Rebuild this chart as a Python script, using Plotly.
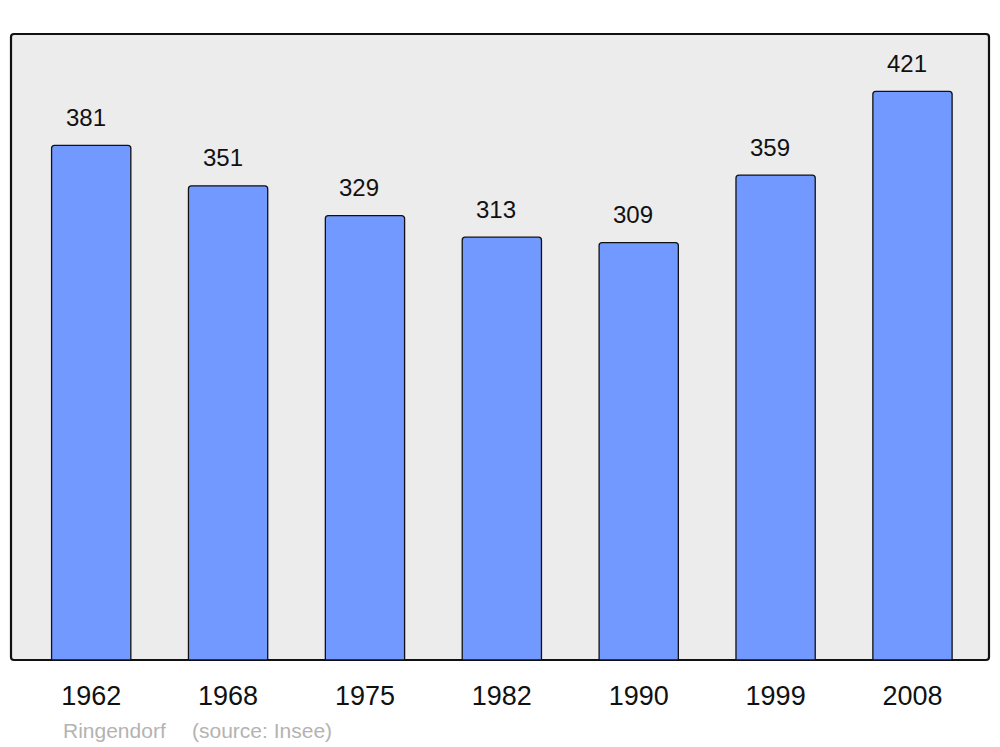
import plotly.graph_objects as go

years = ["1962", "1968", "1975", "1982", "1990", "1999", "2008"]
population = [381, 351, 329, 313, 309, 359, 421]
commune = "Ringendorf"
source = "(source: Insee)"

# page body has an 8px margin, so the figure is sized to fit the viewport
W, H = 992, 739
L, T = 3, 26
pw, ph = 978, 626
R, B = W - L - pw, H - T - ph

fig = go.Figure()
fig.add_trace(go.Bar(
    x=list(range(len(years))), y=population,
    width=0.579,
    marker=dict(color="#7299ff", line=dict(color="#111111", width=1.3)),
    hoverinfo="skip",
))

for i, v in enumerate(population):
    fig.add_annotation(x=i - 0.04, y=v, text=str(v), showarrow=False,
                       yanchor="middle", yshift=28,
                       font=dict(size=24, color="#111111", family="Liberation Sans, Arial"))

# frame with rounded corners
r = 3
rx, ry = r / pw, r / ph
path = (f"M {rx},0 L {1-rx},0 Q 1,0 1,{ry} L 1,{1-ry} Q 1,1 {1-rx},1 "
        f"L {rx},1 Q 0,1 0,{1-ry} L 0,{ry} Q 0,0 {rx},0 Z")
fig.add_shape(type="path", path=path, xref="paper", yref="paper",
              line=dict(color="#111111", width=2.2), fillcolor="#ececec", layer="below")

fig.add_annotation(x=(61 - 11) / pw, y=(660 - 730) / ph, xref="paper", yref="paper",
                   text=commune, showarrow=False, xanchor="left", yanchor="middle",
                   font=dict(size=21, color="#b3b3b3", family="Liberation Sans, Arial"))
fig.add_annotation(x=(190 - 11) / pw, y=(660 - 730) / ph, xref="paper", yref="paper",
                   text=source, showarrow=False, xanchor="left", yanchor="middle",
                   font=dict(size=21, color="#b3b3b3", family="Liberation Sans, Arial"))

fig.update_layout(
    width=W, height=H,
    margin=dict(l=L, r=R, t=T, b=B, pad=0),
    paper_bgcolor="white", plot_bgcolor="rgba(0,0,0,0)",
    showlegend=False, barcornerradius=3,
    font=dict(family="Liberation Sans, Arial"),
    xaxis=dict(range=[-0.586, 6.559], tickmode="array", tickvals=list(range(len(years))),
               ticktext=years, showgrid=False, zeroline=False, showline=False, ticks="",
               tickfont=dict(size=27, color="#111111"), ticklabelstandoff=17, fixedrange=True),
    yaxis=dict(range=[0, 463.4], visible=False, showgrid=False, zeroline=False, fixedrange=True),
)

fig.write_html("out.html")
